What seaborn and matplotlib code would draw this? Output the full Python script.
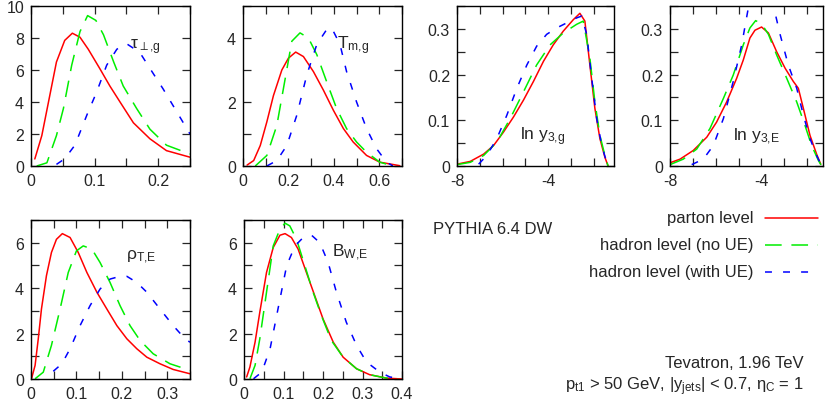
import numpy as np
import pandas as pd
import matplotlib
matplotlib.use("Agg")
import matplotlib.pyplot as plt
from matplotlib.ticker import MultipleLocator, FormatStrFormatter
import seaborn as sns

sns.set_style("ticks")
plt.rcParams['font.family'] = ['Liberation Sans', 'DejaVu Sans']
plt.rcParams['mathtext.fontset'] = 'custom'
plt.rcParams['mathtext.rm'] = 'Liberation Sans'
plt.rcParams['mathtext.it'] = 'Liberation Sans'
plt.rcParams['mathtext.default'] = 'regular'
plt.rcParams['lines.scale_dashes'] = False
plt.rcParams['axes.unicode_minus'] = False

# --- tau_perp,g ---
tau_parton_x = [0.006, 0.017, 0.04, 0.053, 0.065, 0.077, 0.09, 0.108, 0.124, 0.14, 0.161, 0.187, 0.213, 0.25]
tau_parton_y = [0.44, 1.9, 6.5, 7.85, 8.3, 8.05, 7.3, 6.1, 5.0, 4.0, 2.7, 1.7, 0.96, 0.55]
tau_noue_x = [0.009, 0.025, 0.04, 0.051, 0.064, 0.077, 0.089, 0.102, 0.114, 0.13, 0.145, 0.166, 0.187, 0.213, 0.25]
tau_noue_y = [0.0, 0.2, 1.9, 3.6, 6.3, 8.4, 9.4, 9.1, 8.2, 6.5, 5.0, 3.6, 2.3, 1.3, 0.75]
tau_ue_x = [0.04, 0.053, 0.069, 0.088, 0.103, 0.119, 0.135, 0.15, 0.171, 0.187, 0.208, 0.229, 0.25]
tau_ue_y = [0.1, 0.45, 1.3, 3.2, 4.6, 6.3, 7.3, 7.65, 7.1, 6.1, 4.8, 3.4, 2.0]

# --- T_m,g ---
tm_parton_x = [0.018, 0.047, 0.076, 0.105, 0.134, 0.171, 0.2, 0.232, 0.266, 0.31, 0.354, 0.398, 0.442, 0.485, 0.544, 0.602, 0.69]
tm_parton_y = [0.03, 0.17, 0.64, 1.38, 2.2, 3.0, 3.37, 3.56, 3.42, 2.95, 2.37, 1.74, 1.17, 0.75, 0.33, 0.12, 0.01]
tm_noue_x = [0.054, 0.105, 0.149, 0.186, 0.215, 0.251, 0.288, 0.325, 0.368, 0.412, 0.456, 0.5, 0.544, 0.602, 0.66]
tm_noue_y = [0.0, 0.33, 1.27, 2.74, 3.9, 4.16, 4.0, 3.48, 2.64, 1.8, 1.17, 0.75, 0.43, 0.12, 0.0]
tm_ue_x = [0.105, 0.149, 0.193, 0.237, 0.281, 0.325, 0.368, 0.39, 0.427, 0.456, 0.5, 0.544, 0.588, 0.632, 0.66]
tm_ue_y = [0.0, 0.17, 0.64, 1.59, 2.85, 3.8, 4.26, 4.32, 3.8, 2.95, 2.0, 1.17, 0.54, 0.12, 0.0]

# --- ln y3,g ---
y3g_parton_x = [-8.0, -7.42, -6.83, -6.39, -5.96, -5.52, -5.08, -4.64, -4.2, -3.77, -3.33, -2.89, -2.6, -2.38, -2.16, -1.94, -1.72, -1.5, -1.36]
y3g_parton_y = [0.004, 0.01, 0.026, 0.045, 0.074, 0.107, 0.144, 0.185, 0.229, 0.265, 0.295, 0.32, 0.334, 0.317, 0.221, 0.126, 0.06, 0.019, 0.0]
y3g_noue_x = [-8.0, -7.42, -6.83, -6.25, -5.66, -5.08, -4.5, -3.91, -3.33, -2.74, -2.45, -2.16, -1.94, -1.72, -1.5, -1.36]
y3g_noue_y = [0.003, 0.008, 0.023, 0.052, 0.104, 0.162, 0.221, 0.265, 0.291, 0.31, 0.317, 0.236, 0.14, 0.067, 0.023, 0.0]
y3g_ue_x = [-7.05, -6.69, -6.25, -5.81, -5.37, -4.93, -4.5, -4.06, -3.62, -3.18, -2.74, -2.52, -2.3, -2.08, -1.86, -1.64, -1.42, -1.33]
y3g_ue_y = [0.004, 0.023, 0.06, 0.111, 0.17, 0.221, 0.262, 0.288, 0.302, 0.313, 0.324, 0.328, 0.288, 0.192, 0.104, 0.045, 0.008, 0.0]

# --- ln y3,E ---
y3e_parton_x = [-8.0, -7.56, -6.98, -6.39, -5.96, -5.52, -5.08, -4.79, -4.5, -4.28, -3.99, -3.69, -3.33, -2.96, -2.6, -2.38, -2.16, -1.87, -1.58, -1.4]
y3e_parton_y = [0.007, 0.015, 0.034, 0.063, 0.096, 0.14, 0.192, 0.232, 0.28, 0.297, 0.304, 0.291, 0.25, 0.214, 0.185, 0.17, 0.126, 0.067, 0.026, 0.004]
y3e_noue_x = [-8.0, -7.42, -6.83, -6.25, -5.66, -5.23, -4.79, -4.5, -4.25, -3.99, -3.69, -3.33, -2.89, -2.45, -2.09, -1.8, -1.5, -1.36]
y3e_noue_y = [0.003, 0.015, 0.037, 0.082, 0.148, 0.199, 0.265, 0.302, 0.318, 0.311, 0.288, 0.243, 0.192, 0.14, 0.089, 0.045, 0.012, 0.0]
y3e_ue_x = [-7.05, -6.54, -6.1, -5.66, -5.23, -4.86, -4.57, -4.3, -4.0, -3.7, -3.47, -3.18, -2.82, -2.45, -2.16, -1.87, -1.58, -1.36]
y3e_ue_y = [0.003, 0.015, 0.045, 0.104, 0.185, 0.265, 0.346, 0.4, 0.42, 0.4, 0.35, 0.288, 0.221, 0.17, 0.111, 0.06, 0.023, 0.0]

# --- rho_T,E ---
rho_parton_x = [0.0015, 0.009, 0.016, 0.023, 0.034, 0.045, 0.056, 0.069, 0.086, 0.104, 0.123, 0.145, 0.167, 0.189, 0.211, 0.233, 0.255, 0.284, 0.313, 0.35]
rho_parton_y = [0.04, 0.6, 1.77, 3.08, 4.55, 5.57, 6.15, 6.4, 6.23, 5.57, 4.69, 3.82, 3.08, 2.35, 1.77, 1.33, 0.96, 0.67, 0.42, 0.23]
rho_noue_x = [0.009, 0.027, 0.045, 0.064, 0.082, 0.1, 0.115, 0.134, 0.152, 0.174, 0.196, 0.218, 0.24, 0.269, 0.306, 0.35]
rho_noue_y = [0.01, 0.3, 1.48, 3.08, 4.69, 5.64, 5.86, 5.72, 5.13, 4.25, 3.23, 2.35, 1.7, 1.11, 0.67, 0.38]
rho_ue_x = [0.049, 0.068, 0.086, 0.108, 0.13, 0.152, 0.174, 0.196, 0.211, 0.233, 0.255, 0.284, 0.313, 0.339, 0.35]
rho_ue_y = [0.34, 0.67, 1.33, 2.35, 3.23, 3.96, 4.4, 4.52, 4.52, 4.25, 3.82, 3.08, 2.35, 1.77, 1.62]

# --- B_W,E ---
bw_parton_x = [0.0067, 0.015, 0.028, 0.04, 0.057, 0.074, 0.091, 0.104, 0.12, 0.137, 0.158, 0.179, 0.2, 0.226, 0.251, 0.285, 0.318, 0.36, 0.4]
bw_parton_y = [0.09, 0.53, 1.62, 2.94, 4.69, 5.79, 6.33, 6.4, 6.23, 5.72, 4.69, 3.67, 2.65, 1.62, 0.96, 0.45, 0.19, 0.04, 0.0]
bw_noue_x = [0.015, 0.028, 0.04, 0.057, 0.074, 0.091, 0.104, 0.116, 0.133, 0.154, 0.175, 0.196, 0.221, 0.251, 0.285, 0.318, 0.36, 0.39]
bw_noue_y = [0.01, 0.6, 1.77, 3.82, 5.86, 6.6, 6.86, 6.74, 6.15, 4.99, 3.82, 2.79, 1.7, 0.96, 0.45, 0.19, 0.04, 0.0]
bw_ue_x = [0.024, 0.045, 0.066, 0.086, 0.108, 0.129, 0.15, 0.171, 0.192, 0.213, 0.234, 0.259, 0.285, 0.31, 0.344, 0.369, 0.4]
bw_ue_y = [0.01, 0.3, 1.33, 3.08, 4.99, 5.86, 6.23, 6.33, 6.0, 5.13, 3.82, 2.5, 1.48, 0.75, 0.3, 0.09, 0.01]

series_labels = ["parton level", "hadron level (no UE)", "hadron level (with UE)"]
colors = ["#ff0000", "#00ee00", "#0000ff"]
styles = ["-", (0, (12, 7)), (0, (5, 8))]

W, H = 830, 406
fig = plt.figure(figsize=(W / 100, H / 100), dpi=100)


def make_ax(l, r, t, b):
    return fig.add_axes([l / W, (H - b) / H, (r - l) / W, (b - t) / H])


panels = [
    dict(box=(31, 190, 7, 167), xlim=(0, 0.25), ylim=(0, 10), xmaj=0.1, xmin=0.05, ymaj=2, ymin=2,
         label=r'$\tau_{\perp{,}g}$', lpos=(0.62, 0.75),
         data=[(tau_parton_x, tau_parton_y), (tau_noue_x, tau_noue_y), (tau_ue_x, tau_ue_y)]),
    dict(box=(243, 402, 7, 167), xlim=(0, 0.7), ylim=(0, 5), xmaj=0.2, xmin=0.1, ymaj=2, ymin=1,
         label=r'$T_{m{,}g}$', lpos=(0.59, 0.76),
         data=[(tm_parton_x, tm_parton_y), (tm_noue_x, tm_noue_y), (tm_ue_x, tm_ue_y)]),
    dict(box=(457, 614, 7, 167), xlim=(-8, -1.1), ylim=(0, 0.35), xmaj=4, xmin=1, ymaj=0.1, ymin=0.05,
         label=r'ln $y_{3{,}g}$', lpos=(0.40, 0.19),
         data=[(y3g_parton_x, y3g_parton_y), (y3g_noue_x, y3g_noue_y), (y3g_ue_x, y3g_ue_y)]),
    dict(box=(670, 823, 7, 167), xlim=(-8, -1.3), ylim=(0, 0.35), xmaj=4, xmin=1, ymaj=0.1, ymin=0.05,
         label=r'ln $y_{3{,}E}$', lpos=(0.41, 0.19),
         data=[(y3e_parton_x, y3e_parton_y), (y3e_noue_x, y3e_noue_y), (y3e_ue_x, y3e_ue_y)]),
    dict(box=(31, 190, 221, 380), xlim=(0, 0.35), ylim=(0, 7), xmaj=0.1, xmin=0.05, ymaj=2, ymin=1,
         label=r'$\rho_{T{,}E}$', lpos=(0.60, 0.77),
         data=[(rho_parton_x, rho_parton_y), (rho_noue_x, rho_noue_y), (rho_ue_x, rho_ue_y)]),
    dict(box=(244, 402, 221, 380), xlim=(0, 0.4), ylim=(0, 7), xmaj=0.1, xmin=0.05, ymaj=2, ymin=1,
         label=r'$B_{W{,}E}$', lpos=(0.56, 0.80),
         data=[(bw_parton_x, bw_parton_y), (bw_noue_x, bw_noue_y), (bw_ue_x, bw_ue_y)]),
]

for p in panels:
    ax = make_ax(*p['box'])
    for (xs, ys), c, ls in zip(p['data'], colors, styles):
        sns.lineplot(x=xs, y=ys, ax=ax, color=c, linestyle=ls, linewidth=1.1,
                     estimator=None, legend=False)
    ax.set_xlim(*p['xlim'])
    ax.set_ylim(*p['ylim'])
    ax.xaxis.set_major_locator(MultipleLocator(p['xmaj']))
    ax.xaxis.set_minor_locator(MultipleLocator(p['xmin']))
    ax.set_yticks(np.arange(0, p['ylim'][1] + 1e-9, p['ymaj']))
    ax.yaxis.set_minor_locator(MultipleLocator(p['ymin']))
    ax.xaxis.set_major_formatter(FormatStrFormatter('%g'))
    ax.yaxis.set_major_formatter(FormatStrFormatter('%g'))
    ax.tick_params(which='both', direction='in', top=True, right=True, length=6,
                   width=0.9, labelsize=11.5, pad=5)
    for s in ax.spines.values():
        s.set_linewidth(1.0)
        s.set_color('black')
    ax.set_xlabel('')
    ax.set_ylabel('')
    ax.text(p['lpos'][0], p['lpos'][1], p['label'], transform=ax.transAxes,
            fontsize=12.5, ha='left', va='center')

# legend / annotations in figure pixel coordinates
def fx(x):
    return x / W


def fy(y):
    return (H - y) / H


fig.text(fx(433), fy(230), "PYTHIA 6.4 DW", fontsize=12, ha='left', va='center')
leg_y = [219, 246, 273]
for lab, c, ls, yy in zip(series_labels, colors, styles, leg_y):
    fig.text(fx(753), fy(yy), lab, fontsize=12, ha='right', va='center')
    fig.add_artist(matplotlib.lines.Line2D([fx(765), fx(818)], [fy(yy), fy(yy)],
                                           color=c, linestyle=ls, linewidth=1.1))

fig.text(fx(804), fy(364), "Tevatron, 1.96 TeV", fontsize=12, ha='right', va='center')
fig.text(fx(804), fy(387), r"$p_{t1}$ > 50 GeV, |$y_{jets}$| < 0.7, $\eta_C$ = 1",
         fontsize=12, ha='right', va='center')

fig.savefig("out.png", dpi=100)
